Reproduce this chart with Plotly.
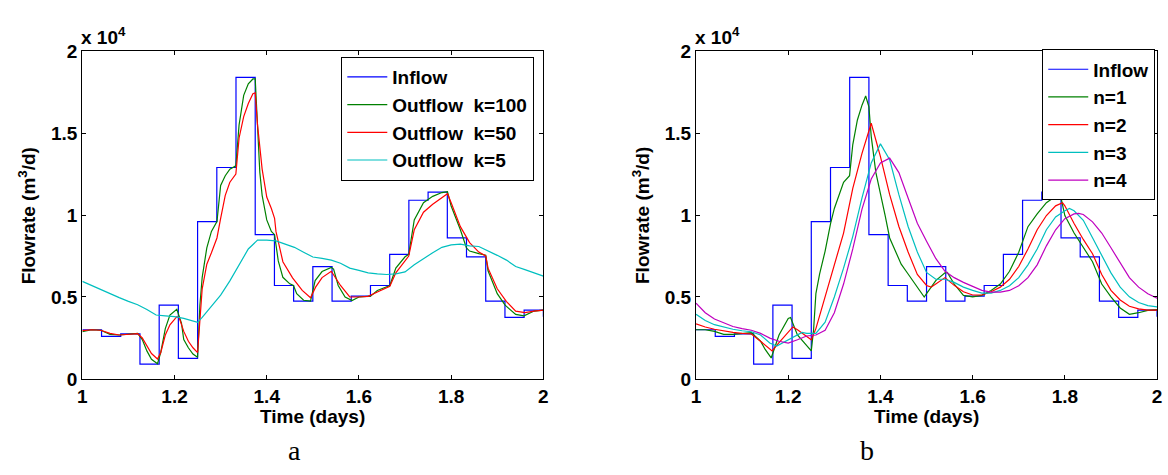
import plotly.graph_objects as go

# ---------------- data ----------------
INFLOW_T = [1.0, 1.0417, 1.0833, 1.125, 1.1667, 1.2083, 1.25, 1.2917, 1.3333, 1.375, 1.4167, 1.4583,
            1.5, 1.5417, 1.5833, 1.625, 1.6667, 1.7083, 1.75, 1.7917, 1.8333, 1.875, 1.9167, 1.9583, 2.0]
INFLOW_Q = [3000, 2600, 2750, 900, 4500, 1250, 9600, 12900, 18400, 8800, 5700, 4750,
            6850, 4750, 5050, 5700, 7600, 10900, 11400, 8600, 7450, 4750, 3750, 4200, 3800]

K100_T = [1.00, 1.02, 1.04, 1.06, 1.08, 1.10, 1.12, 1.13, 1.14, 1.15, 1.163, 1.17, 1.18, 1.19, 1.205, 1.215,
          1.22, 1.23, 1.24, 1.25, 1.255, 1.26, 1.27, 1.28, 1.292, 1.30, 1.31, 1.32, 1.333, 1.34, 1.35, 1.36,
          1.37, 1.375, 1.38, 1.385, 1.39, 1.40, 1.41, 1.417, 1.425, 1.435, 1.45, 1.458, 1.465, 1.48, 1.495,
          1.505, 1.52, 1.54, 1.545, 1.555, 1.57, 1.585, 1.60, 1.625, 1.64, 1.667, 1.68, 1.70, 1.708, 1.72,
          1.74, 1.76, 1.78, 1.792, 1.80, 1.82, 1.833, 1.84, 1.86, 1.875, 1.88, 1.90, 1.917, 1.94, 1.958,
          1.98, 2.00]
K100_Q = [2880, 3000, 2970, 2720, 2680, 2720, 2780, 2400, 1710, 1200, 930, 1600, 3070, 3900, 4250, 3400,
          2400, 1900, 1520, 1320, 4500, 6200, 8000, 9000, 9600, 11800, 12400, 12800, 13000, 15500, 17300, 18000,
          18300, 18300, 15500, 12600, 11200, 9700, 9000, 8800, 7200, 6200, 5800, 5700, 5200, 4800, 4750,
          6000, 6550, 6800, 6700, 5700, 5000, 4780, 5000, 5050, 5400, 5700, 6760, 7450, 7600, 9700,
          10750, 11140, 11370, 11430, 10550, 9100, 8000, 7800, 7640, 7550, 6600, 5200, 4500, 3940, 3850,
          4140, 4200]

K50_T = [1.00, 1.02, 1.04, 1.06, 1.08, 1.10, 1.12, 1.13, 1.14, 1.15, 1.163, 1.17, 1.18, 1.19, 1.205, 1.21,
         1.22, 1.23, 1.24, 1.25, 1.26, 1.27, 1.28, 1.292, 1.30, 1.31, 1.32, 1.333, 1.34, 1.35, 1.36, 1.37,
         1.375, 1.38, 1.39, 1.40, 1.41, 1.417, 1.42, 1.435, 1.456, 1.477, 1.495, 1.506, 1.52, 1.54, 1.56,
         1.58, 1.60, 1.62, 1.64, 1.667, 1.68, 1.70, 1.708, 1.72, 1.74, 1.76, 1.78, 1.792, 1.80, 1.82, 1.84,
         1.86, 1.875, 1.88, 1.90, 1.92, 1.94, 1.96, 1.98, 2.00]
K50_Q = [2950, 3000, 2970, 2780, 2680, 2720, 2770, 2500, 2000, 1550, 1220, 1600, 2680, 3300, 3800, 3750,
         2900, 2300, 1900, 1610, 5500, 7000, 7700, 8600, 9800, 11200, 12000, 12500, 14700, 16000, 16800, 17400,
         17450, 15500, 12800, 11100, 10400, 9800, 9000, 7150, 6170, 5400, 4950, 5600, 6180, 6570, 5700,
         5000, 5000, 5040, 5300, 5650, 6470, 7250, 7500, 9100, 10170, 10660, 11080, 11300, 10750, 9290, 8320,
         7740, 7500, 6760, 5500, 4720, 4140, 4040, 4140, 4200]

K5_T = [1.00, 1.02, 1.04, 1.06, 1.08, 1.10, 1.12, 1.14, 1.16, 1.18, 1.20, 1.22, 1.24, 1.25, 1.26, 1.28, 1.30,
        1.32, 1.34, 1.36, 1.38, 1.40, 1.42, 1.44, 1.46, 1.48, 1.50, 1.52, 1.54, 1.56, 1.58, 1.60, 1.62, 1.64,
        1.66, 1.68, 1.70, 1.72, 1.74, 1.76, 1.78, 1.80, 1.82, 1.84, 1.86, 1.88, 1.90, 1.92, 1.94, 1.96, 1.98,
        2.00]
K5_Q = [5950, 5700, 5440, 5170, 4960, 4730, 4530, 4240, 3900, 3850, 3800, 3690, 3500, 3450, 3750, 4430, 5110,
        5980, 6950, 7930, 8470, 8470, 8420, 8220, 8030, 7730, 7440, 7350, 7250, 7060, 6760, 6620, 6470, 6410,
        6370, 6410, 6530, 6960, 7350, 7700, 8030, 8180, 8220, 8120, 8080, 7830, 7540, 7250, 6860, 6670, 6470,
        6270]

N1_T = [1.00, 1.02, 1.04, 1.06, 1.08, 1.10, 1.12, 1.14, 1.15, 1.163, 1.18, 1.20, 1.205, 1.22, 1.24, 1.25,
        1.255, 1.26, 1.268, 1.28, 1.292, 1.30, 1.32, 1.333, 1.34, 1.35, 1.36, 1.368, 1.375, 1.38, 1.39, 1.40,
        1.41, 1.42, 1.43, 1.445, 1.46, 1.48, 1.495, 1.50, 1.52, 1.54, 1.545, 1.56, 1.58, 1.60, 1.62, 1.64,
        1.66, 1.68, 1.70, 1.72, 1.74, 1.76, 1.78, 1.79, 1.80, 1.82, 1.84, 1.86, 1.88, 1.90, 1.92, 1.94, 1.96,
        1.98, 2.00]
N1_Q = [3000, 3000, 2900, 2720, 2720, 2780, 2820, 2300, 1800, 1280, 2680, 3690, 3750, 2680, 2000, 1710,
        3000, 5200, 6400, 7800, 9500, 10400, 12000, 12400, 14300, 15800, 16700, 17260, 16600, 14800, 12600, 11400,
        10000, 8600, 8000, 7000, 6400, 5600, 5000, 5200, 6000, 6470, 6500, 5790, 5100, 5010, 5100, 5400,
        5790, 6570, 7730, 9290, 10070, 10750, 11140, 11270, 9970, 8900, 8000, 7150, 5790, 5010, 4330, 3940, 4040,
        4180, 4230]

N2_T = [1.00, 1.02, 1.04, 1.06, 1.08, 1.10, 1.12, 1.14, 1.165, 1.18, 1.20, 1.21, 1.22, 1.24, 1.25, 1.26,
        1.28, 1.30, 1.32, 1.34, 1.36, 1.38, 1.40, 1.42, 1.44, 1.46, 1.48, 1.50, 1.51, 1.52, 1.54, 1.56, 1.58,
        1.60, 1.62, 1.64, 1.66, 1.68, 1.70, 1.72, 1.74, 1.76, 1.78, 1.795, 1.80, 1.82, 1.84, 1.86, 1.88, 1.90,
        1.92, 1.94, 1.96, 1.98, 2.00]
N2_Q = [3360, 3170, 3030, 2920, 2840, 2780, 2740, 2300, 1710, 2210, 2880, 3170, 3000, 2590, 2390, 3070,
        5000, 6960, 8900, 11620, 13760, 15600, 13560, 11240, 9300, 7740, 6380, 5700, 5600, 5790, 6180, 5710, 5320,
        5120, 5120, 5320, 5600, 6080, 6860, 7930, 9100, 9970, 10560, 10750, 10560, 9480, 8510, 7640, 6370, 5400,
        4820, 4430, 4270, 4200, 4200]

N3_T = [1.00, 1.02, 1.04, 1.06, 1.08, 1.10, 1.12, 1.14, 1.16, 1.175, 1.20, 1.22, 1.23, 1.24, 1.26, 1.28,
        1.30, 1.32, 1.34, 1.36, 1.38, 1.40, 1.42, 1.44, 1.46, 1.48, 1.50, 1.52, 1.54, 1.56, 1.58, 1.60, 1.62,
        1.64, 1.66, 1.68, 1.70, 1.72, 1.74, 1.76, 1.78, 1.80, 1.81, 1.82, 1.84, 1.86, 1.88, 1.90, 1.92, 1.94,
        1.96, 1.98, 2.00]
N3_Q = [3950, 3560, 3310, 3150, 3030, 2940, 2880, 2680, 2190, 2000, 2390, 2720, 2840, 2780, 2780, 3460,
        5000, 6760, 8700, 11040, 13180, 14340, 13370, 11240, 9300, 7740, 6500, 6080, 6080, 5890, 5600, 5400, 5240,
        5240, 5400, 5690, 6180, 6960, 7930, 9100, 9880, 10260, 10400, 10260, 9680, 8610, 7540, 6470, 5600, 5010,
        4660, 4470, 4390]

N4_T = [1.00, 1.02, 1.04, 1.06, 1.08, 1.10, 1.12, 1.14, 1.16, 1.18, 1.20, 1.22, 1.24, 1.26, 1.28, 1.30,
        1.32, 1.34, 1.36, 1.38, 1.40, 1.42, 1.44, 1.46, 1.48, 1.50, 1.52, 1.54, 1.56, 1.58, 1.60, 1.62, 1.64,
        1.66, 1.68, 1.70, 1.72, 1.74, 1.76, 1.78, 1.80, 1.82, 1.83, 1.84, 1.86, 1.88, 1.90, 1.92, 1.94, 1.96,
        1.98, 2.00]
N4_Q = [4620, 4040, 3660, 3420, 3200, 3070, 2970, 2780, 2490, 2300, 2190, 2390, 2620, 2680, 2970, 4040,
        5790, 7930, 10360, 12200, 13180, 13470, 12590, 11040, 9500, 8400, 7350, 6570, 6180, 5890, 5640, 5400, 5300,
        5300, 5400, 5690, 6180, 6960, 8120, 9100, 9780, 10070, 10100, 10030, 9580, 8900, 8000, 7050, 6180, 5600,
        5200, 4930]

X_TICKS = [1, 1.2, 1.4, 1.6, 1.8, 2]
X_TICKTEXT = ["1", "1.2", "1.4", "1.6", "1.8", "2"]
Y_TICKS = [0, 5000, 10000, 15000, 20000]
Y_TICKTEXT = ["0", "0.5", "1", "1.5", "2"]

LEFT_NAMES = ["Inflow", "Outflow  k=100", "Outflow  k=50", "Outflow  k=5"]
RIGHT_NAMES = ["Inflow", "n=1", "n=2", "n=3", "n=4"]

BLUE, GREEN, RED, CYAN, MAGENTA = "#0000FF", "#008000", "#FF0000", "#00BFBF", "#BF00BF"

# ---------------- figure ----------------
W, H = 1168, 475
FONT = "Liberation Sans, Arial, Helvetica, sans-serif"
fig = go.Figure()
LW = 1.2

left_series = [(INFLOW_T, INFLOW_Q, BLUE, "hv"), (K100_T, K100_Q, GREEN, "linear"),
               (K50_T, K50_Q, RED, "linear"), (K5_T, K5_Q, CYAN, "linear")]
for name, (t, q, c, shp) in zip(LEFT_NAMES, left_series):
    fig.add_trace(go.Scatter(x=t, y=q, mode="lines", name=name, line=dict(color=c, width=LW, shape=shp),
                             xaxis="x", yaxis="y", legend="legend"))

right_series = [(INFLOW_T, INFLOW_Q, BLUE, "hv"), (N1_T, N1_Q, GREEN, "linear"), (N2_T, N2_Q, RED, "linear"),
                (N3_T, N3_Q, CYAN, "linear"), (N4_T, N4_Q, MAGENTA, "linear")]
for name, (t, q, c, shp) in zip(RIGHT_NAMES, right_series):
    fig.add_trace(go.Scatter(x=t, y=q, mode="lines", name=name, line=dict(color=c, width=LW, shape=shp),
                             xaxis="x2", yaxis="y2", legend="legend2"))

tickfont = dict(family=FONT, size=19, color="black", weight="bold")
axis_common = dict(showline=True, linecolor="black", linewidth=1.2, mirror="allticks", ticks="inside",
                   ticklen=4, tickwidth=1, tickcolor="black", showgrid=False, zeroline=False,
                   tickfont=tickfont)

def px2x(px):
    return px / W

def py2y(py):
    return 1 - py / H

ydom = [py2y(386), py2y(43)]
fig.update_layout(
    width=W, height=H, margin=dict(l=0, r=0, t=0, b=0),
    paper_bgcolor="white", plot_bgcolor="white",
    xaxis=dict(domain=[px2x(78), px2x(543)], range=[1, 2], tickvals=X_TICKS, ticktext=X_TICKTEXT,
               anchor="y", **axis_common),
    yaxis=dict(domain=ydom, range=[0, 20000], tickvals=Y_TICKS, ticktext=Y_TICKTEXT,
               anchor="x", **axis_common),
    xaxis2=dict(domain=[px2x(697), px2x(1162)], range=[1, 2], tickvals=X_TICKS, ticktext=X_TICKTEXT,
                anchor="y2", **axis_common),
    yaxis2=dict(domain=ydom, range=[0, 20000], tickvals=Y_TICKS, ticktext=Y_TICKTEXT,
                anchor="x2", **axis_common),
    legend=dict(x=px2x(339), y=py2y(49), xanchor="left", yanchor="top",
                font=dict(family=FONT, size=19, color="black", weight="bold"),
                bgcolor="white", bordercolor="black", borderwidth=1.2, itemwidth=40, tracegroupgap=0),
    legend2=dict(x=px2x(1046), y=py2y(41), xanchor="left", yanchor="top",
                 font=dict(family=FONT, size=19, color="black", weight="bold"),
                 bgcolor="white", bordercolor="black", borderwidth=1.2, itemwidth=40, tracegroupgap=0),
    showlegend=True,
)

lab = dict(family=FONT, size=19, color="black", weight="bold")
annos = []
for ax0, cap, capx in [(78, "a", 292), (697, "b", 869)]:
    annos.append(dict(text="x 10<sup>4</sup>", x=px2x(ax0 - 3), y=py2y(27), xref="paper", yref="paper",
                      xanchor="left", yanchor="middle", showarrow=False, font=lab))
    annos.append(dict(text="Flowrate (m<sup>3</sup>/d)", x=px2x(ax0 - 55), y=py2y(215), xref="paper",
                      yref="paper", xanchor="center", yanchor="middle", textangle=-90, showarrow=False,
                      font=lab))
    annos.append(dict(text="Time (days)", x=px2x(ax0 + 232.5), y=py2y(425), xref="paper", yref="paper",
                      xanchor="center", yanchor="middle", showarrow=False, font=lab))
    annos.append(dict(text=cap, x=px2x(capx), y=py2y(461), xref="paper", yref="paper",
                      xanchor="center", yanchor="middle", showarrow=False,
                      font=dict(family="Liberation Serif, Times New Roman, serif", size=28, color="black")))
fig.update_layout(annotations=annos)

fig.write_html("out.html")
